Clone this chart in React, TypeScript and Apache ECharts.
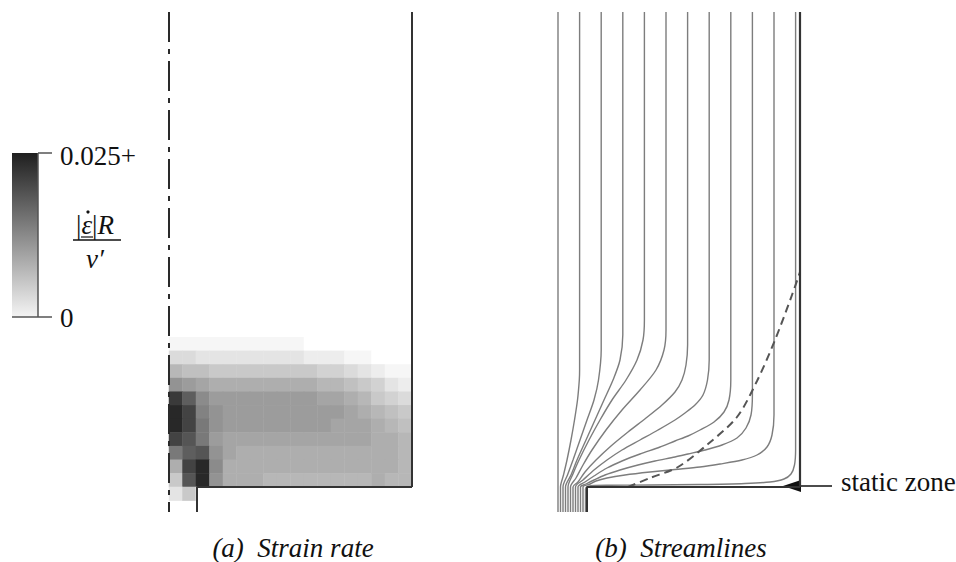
import React, { useEffect, useRef } from 'react';
import * as echarts from 'echarts';

const SERIF = '"Liberation Serif", "Times New Roman", serif';

// ---- colour scale (|ε̇|R / v′) ----
const scaleMaxLabel = '0.025+';
const scaleMinLabel = '0';
const scaleMin = 0;
const scaleMax = 25; // values below are stored ×1e-3, so 25 ≙ 0.025
const grayLow = '#ffffff';
const grayHigh = '#1f1f1f';

// ---- captions ----
const captionA = '(a)  Strain rate';
const captionB = '(b)  Streamlines';
const staticZoneLabel = 'static zone';

// ---- strain-rate field, panel (a): rows top -> bottom, columns axis -> wall (×1e-3) ----
const strainColumns = Array.from({ length: 18 }, (_, i) => `c${i}`);
const strainRows = Array.from({ length: 14 }, (_, i) => `r${i}`);
const strainRateGrid: number[][] = [
  [0, 0, 0, 0, 0, 0, 0, 0, 0, 0, 0, 0, 0, 0, 0, 0, 0, 0],
  [0, 0, 0, 0, 0, 0, 0, 0, 0, 0, 0, 0, 0, 0, 0, 0, 0, 0],
  [1, 1, 1, 1, 1, 1, 1, 1, 1, 1, 0, 0, 0, 0, 0, 0, 0, 0],
  [4, 4, 3, 3, 3, 3, 3, 3, 3, 3, 2, 2, 2, 1, 1, 0, 0, 0],
  [8, 7, 7, 6, 6, 6, 6, 6, 6, 6, 6, 5, 5, 4, 3, 2, 1, 1],
  [12, 11, 10, 9, 9, 9, 9, 9, 9, 9, 9, 8, 8, 7, 6, 5, 3, 2],
  [22, 18, 13, 11, 11, 11, 11, 11, 11, 11, 11, 10, 10, 9, 8, 6, 5, 4],
  [24, 21, 14, 12, 11, 11, 11, 11, 11, 11, 11, 11, 11, 10, 9, 8, 7, 6],
  [24, 21, 15, 12, 11, 11, 11, 11, 11, 11, 11, 11, 10, 10, 10, 9, 8, 7],
  [21, 19, 15, 11, 10, 10, 10, 10, 10, 10, 10, 10, 10, 10, 10, 9, 9, 8],
  [15, 18, 19, 12, 10, 9, 9, 9, 9, 9, 9, 9, 9, 9, 9, 9, 9, 8],
  [9, 21, 24, 13, 9, 9, 9, 9, 9, 9, 9, 9, 9, 9, 9, 9, 9, 8],
  [6, 19, 24, 12, 9, 9, 9, 8, 8, 8, 8, 8, 8, 8, 8, 9, 8, 8],
  [3, 6, 0, 0, 0, 0, 0, 0, 0, 0, 0, 0, 0, 0, 0, 0, 0, 0],
];

// ---- geometry (r from axis, z above hopper floor; container radius = 242 units) ----
const axisLineA = [[0, 475], [0, -25]];
const wallA = [[243, 475], [243, 0]];
const floorA = [[28, -25], [28, 0], [243, 0]];
const wallB = [[242, 475], [242, 0]];
const floorB = [[29, -25], [29, 0], [242, 0]];

// ---- streamlines, panel (b) ----
const streamline0 = [[0, 475], [0, -25]];
const streamline1 = [[21.6, 475], [21.6, 117], [21.3, 107], [19.5, 87], [16.5, 67], [13, 47], [9, 27], [5.5, 12], [2.5, 0], [2.5, -25]];
const streamline2 = [[43.2, 475], [43.2, 137], [40.5, 107], [36, 87], [29, 67], [22, 47], [15, 27], [9.5, 12], [5, 0], [5, -25]];
const streamline3 = [[64.8, 475], [64.8, 152], [62, 127], [55, 107], [46, 87], [37, 67], [28, 47], [19, 27], [13, 12], [7.5, 0], [7.5, -25]];
const streamline4 = [[86.4, 475], [86.4, 167], [85, 147], [79, 127], [68, 107], [54, 87], [42, 67], [31, 47], [21, 27], [14.5, 12], [10, 0], [10, -25]];
const streamline5 = [[108, 475], [108, 157], [106, 137], [98, 117], [82, 97], [64, 77], [48, 57], [34, 37], [25, 22], [18, 9], [12.5, 0], [12.5, -25]];
const streamline6 = [[129.6, 475], [129.6, 142], [128, 122], [124, 107], [117, 95], [104, 82], [88, 69], [70, 55], [53, 41], [38, 27], [27, 15], [20, 5], [15, 0], [15, -25]];
const streamline7 = [[151.2, 475], [151.2, 127], [149.5, 107], [145, 92], [137, 82], [127, 74], [117, 67], [100, 57], [82, 47], [64, 37], [49, 27], [36, 17], [25, 7], [17.5, 0], [17.5, -25]];
const streamline8 = [[172.8, 475], [172.8, 107], [171, 87], [166, 75], [156, 65], [142, 57], [130, 51], [117, 46], [102, 40], [82, 33], [64, 26], [49, 19], [36, 11], [27, 5], [20, 0], [20, -25]];
const streamline9 = [[194.4, 475], [194.4, 92], [193, 72], [188, 59], [179, 49], [164, 42], [147, 37], [130, 33], [117, 30], [97, 26], [80, 22], [62, 17], [47, 12], [36, 7], [28, 3], [22.5, 0], [22.5, -25]];
const streamline10 = [[216, 475], [216, 72], [214, 52], [209, 40], [199, 32], [184, 27], [162, 23], [142, 20], [117, 17.5], [92, 15], [67, 12], [49, 9], [38, 6], [31, 2.5], [25, 0], [25, -25]];
const streamline11 = [[237.6, 475], [237.6, 37], [236.5, 22], [233, 13], [226, 8], [212, 5], [187, 3.5], [142, 2.5], [92, 2], [52, 1.7], [37, 1.5], [30, 0.5], [27.5, -2], [27.5, -25]];
const streamlines = [
  streamline0, streamline1, streamline2, streamline3, streamline4, streamline5,
  streamline6, streamline7, streamline8, streamline9, streamline10, streamline11,
];

// boundary of the static zone (dashed)
const staticZoneBoundary = [[70, 0], [92, 9], [120, 20], [150, 43], [179, 70], [199, 106], [217, 147], [234, 192], [242, 215]];

export default function App() {
  const ref = useRef<HTMLDivElement>(null);

  useEffect(() => {
    if (!ref.current) return;
    const chart = echarts.init(ref.current, undefined, { renderer: 'svg' });

    const heatData: number[][] = [];
    strainRateGrid.forEach((row, r) => row.forEach((v, c) => heatData.push([c, r, v])));

    const lineBase = {
      type: 'line' as const,
      symbol: 'none',
      clip: false,
      silent: true,
      animation: false,
      z: 3,
    };

    const option: any = {
      animation: false,
      backgroundColor: '#ffffff',
      grid: [
        { left: 169, top: 12, width: 243, height: 500 },
        { left: 169, top: 310, width: 243, height: 190.6 },
        { left: 558, top: 12, width: 242, height: 500 },
      ],
      xAxis: [
        { gridIndex: 0, type: 'value', min: 0, max: 243, show: false },
        { gridIndex: 1, type: 'category', data: strainColumns, show: false },
        { gridIndex: 2, type: 'value', min: 0, max: 242, show: false },
      ],
      yAxis: [
        { gridIndex: 0, type: 'value', min: -25, max: 475, show: false },
        { gridIndex: 1, type: 'category', data: strainRows, inverse: true, show: false },
        { gridIndex: 2, type: 'value', min: -25, max: 475, show: false },
      ],
      visualMap: [
        {
          type: 'continuous',
          show: false,
          min: scaleMin,
          max: scaleMax,
          seriesIndex: 0,
          dimension: 2,
          inRange: { color: [grayLow, grayHigh] },
        },
      ],
      series: [
        {
          type: 'heatmap',
          xAxisIndex: 1,
          yAxisIndex: 1,
          data: heatData,
          silent: true,
          z: 1,
          itemStyle: { borderWidth: 0 },
        },
        { ...lineBase, xAxisIndex: 0, yAxisIndex: 0, data: axisLineA, lineStyle: { color: '#2a2a2a', width: 2, type: [30, 7, 5, 7] } },
        { ...lineBase, xAxisIndex: 0, yAxisIndex: 0, data: wallA, lineStyle: { color: '#333', width: 2 } },
        { ...lineBase, xAxisIndex: 0, yAxisIndex: 0, data: floorA, lineStyle: { color: '#333', width: 2 } },
        ...streamlines.map((d) => ({
          ...lineBase,
          xAxisIndex: 2,
          yAxisIndex: 2,
          data: d,
          smooth: 0.3,
          lineStyle: { color: '#7d7d7d', width: 1.4 },
        })),
        { ...lineBase, xAxisIndex: 2, yAxisIndex: 2, data: staticZoneBoundary, smooth: 0.3, lineStyle: { color: '#555', width: 2, type: [8, 5] } },
        { ...lineBase, xAxisIndex: 2, yAxisIndex: 2, data: wallB, lineStyle: { color: '#333', width: 2.2 } },
        { ...lineBase, xAxisIndex: 2, yAxisIndex: 2, data: floorB, lineStyle: { color: '#333', width: 2 } },
      ],
      graphic: [
        // colour bar
        {
          type: 'rect',
          shape: { x: 12, y: 153, width: 26, height: 164 },
          style: {
            fill: {
              type: 'linear', x: 0, y: 0, x2: 0, y2: 1,
              colorStops: [{ offset: 0, color: grayHigh }, { offset: 1, color: '#f4f4f4' }],
            },
          },
        },
        { type: 'line', shape: { x1: 38, y1: 153, x2: 38, y2: 317 }, style: { stroke: '#555', lineWidth: 1.5 } },
        { type: 'line', shape: { x1: 38, y1: 153, x2: 52, y2: 153 }, style: { stroke: '#555', lineWidth: 1.5 } },
        { type: 'line', shape: { x1: 12, y1: 317, x2: 52, y2: 317 }, style: { stroke: '#555', lineWidth: 1.5 } },
        { type: 'text', x: 60, y: 156, style: { text: scaleMaxLabel, font: `27px ${SERIF}`, fill: '#111', textAlign: 'left', textVerticalAlign: 'middle' } },
        { type: 'text', x: 60, y: 318, style: { text: scaleMinLabel, font: `27px ${SERIF}`, fill: '#111', textAlign: 'left', textVerticalAlign: 'middle' } },
        // formula |ε̇|R / ν′
        {
          type: 'text', x: 95, y: 225,
          style: {
            text: '{b||}{i|ε}{b||}{i|R}',
            textAlign: 'center', textVerticalAlign: 'middle', fill: '#111',
            rich: {
              b: { font: `27px ${SERIF}`, fill: '#111' },
              i: { font: `italic 27px ${SERIF}`, fill: '#111' },
            },
          },
        },
        { type: 'circle', shape: { cx: 88, cy: 212, r: 1.6 }, style: { fill: '#111' } },
        { type: 'line', shape: { x1: 81, y1: 237, x2: 93, y2: 237 }, style: { stroke: '#111', lineWidth: 1.2 } },
        { type: 'line', shape: { x1: 73, y1: 240, x2: 121, y2: 240 }, style: { stroke: '#111', lineWidth: 1.5 } },
        { type: 'text', x: 95, y: 259, style: { text: 'ν′', font: `italic 27px ${SERIF}`, fill: '#111', textAlign: 'center', textVerticalAlign: 'middle' } },
        // static zone annotation
        { type: 'line', shape: { x1: 832, y1: 486, x2: 795, y2: 486 }, style: { stroke: '#111', lineWidth: 1.3 } },
        { type: 'polygon', shape: { points: [[783, 486], [801, 480], [801, 492]] }, style: { fill: '#111' } },
        { type: 'text', x: 841, y: 482, style: { text: staticZoneLabel, font: `27px ${SERIF}`, fill: '#111', textAlign: 'left', textVerticalAlign: 'middle' } },
        // captions
        { type: 'text', x: 293, y: 548, style: { text: captionA, font: `italic 27px ${SERIF}`, fill: '#111', textAlign: 'center', textVerticalAlign: 'middle' } },
        { type: 'text', x: 681, y: 548, style: { text: captionB, font: `italic 27px ${SERIF}`, fill: '#111', textAlign: 'center', textVerticalAlign: 'middle' } },
      ],
    };

    chart.setOption(option);
    return () => chart.dispose();
  }, []);

  return (
    <div
      ref={ref}
      style={{ position: 'fixed', left: 0, top: 0, width: 956, height: 562, background: '#fff' }}
    />
  );
}
